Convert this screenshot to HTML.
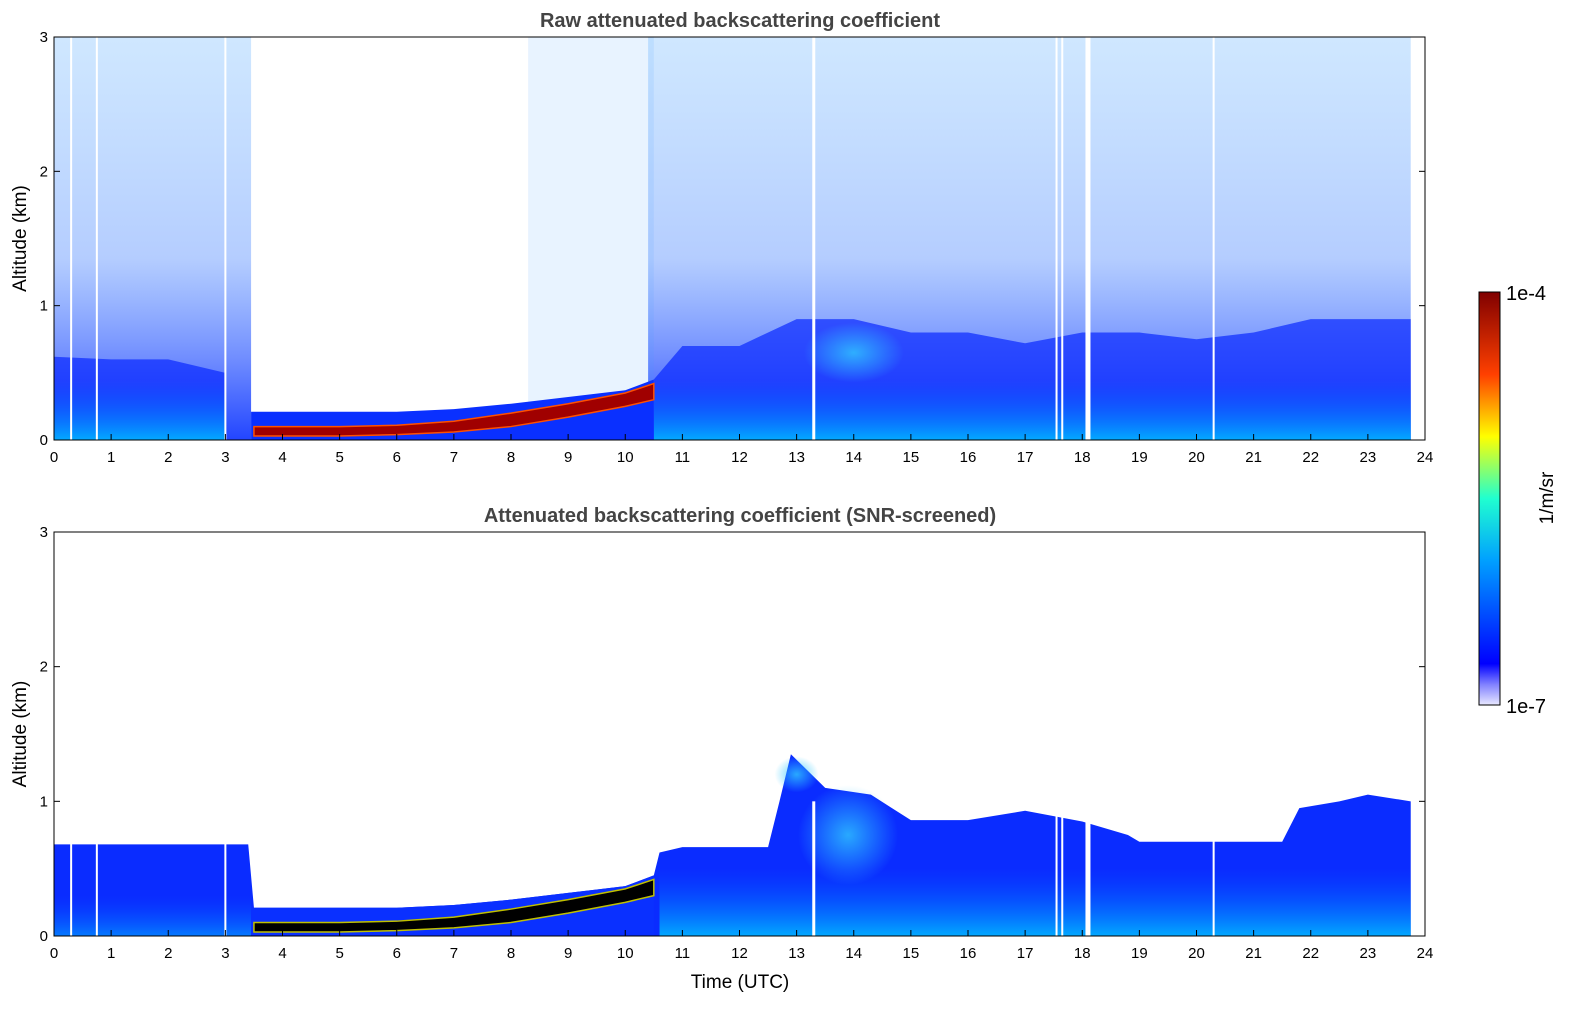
<!DOCTYPE html>
<html><head><meta charset="utf-8">
<style>
body{margin:0;background:#fff;}
svg{display:block;font-family:"Liberation Sans","DejaVu Sans",sans-serif;}
</style></head>
<body>
<svg id="chart" width="1595" height="1020" viewBox="0 0 1595 1020" xmlns="http://www.w3.org/2000/svg">
<defs>
<linearGradient id="rawNoise" x1="0" y1="1" x2="0" y2="0">
<stop offset="0" stop-color="#0a30ff" stop-opacity="0.9"/>
<stop offset="0.2" stop-color="#1040ff" stop-opacity="0.6"/>
<stop offset="0.45" stop-color="#2a70ff" stop-opacity="0.35"/>
<stop offset="1" stop-color="#40a0ff" stop-opacity="0.25"/>
</linearGradient>
<linearGradient id="cyanBottom" x1="0" y1="1" x2="0" y2="0">
<stop offset="0" stop-color="#00c8ff"/>
<stop offset="1" stop-color="#0060ff" stop-opacity="0"/>
</linearGradient>
<radialGradient id="cyanBlob">
<stop offset="0" stop-color="#30c8ff" stop-opacity="0.8"/>
<stop offset="1" stop-color="#30c8ff" stop-opacity="0"/>
</radialGradient>
<linearGradient id="jet" x1="0" y1="1" x2="0" y2="0">
<stop offset="0" stop-color="#e8e8ff"/>
<stop offset="0.05" stop-color="#8080ff"/>
<stop offset="0.1" stop-color="#0000ff"/>
<stop offset="0.35" stop-color="#00a0ff"/>
<stop offset="0.5" stop-color="#20ffd0"/>
<stop offset="0.65" stop-color="#ffff00"/>
<stop offset="0.8" stop-color="#ff4000"/>
<stop offset="1" stop-color="#800000"/>
</linearGradient>
</defs>
<g id="top"></g>
<g id="bottom"></g>
<g id="cbar"></g>
</svg>
<script>
// ---- data ----
const xTicks=[0,1,2,3,4,5,6,7,8,9,10,11,12,13,14,15,16,17,18,19,20,21,22,23,24];
const yTicks=[0,1,2,3];
const rawNoiseSegments=[[0,3.45],[10.4,23.75]];
const rawTransition=[8.3,10.5];
const rawBLTimes=[0,1,2,3,3.45,10.5,11,12,13,14,15,16,17,18,19,20,21,22,23,23.75];
const rawBLTop=[0.62,0.6,0.6,0.5,0.48,0.45,0.7,0.7,0.9,0.9,0.8,0.8,0.72,0.8,0.8,0.75,0.8,0.9,0.9,0.9];
const cloudTimes=[3.5,4,5,6,7,8,9,10,10.5];
const cloudBase=[0.03,0.03,0.03,0.04,0.06,0.1,0.17,0.25,0.3];
const cloudTop=[0.1,0.1,0.1,0.11,0.14,0.2,0.27,0.35,0.42];
const lowTimes=[3.45,6,7,8,9,10,10.5];
const lowTop=[0.21,0.21,0.23,0.27,0.32,0.37,0.45];
const screenTimes=[0,3.4,3.5,6,7,8,9,10,10.5,10.6,11,12.5,12.7,12.9,13.5,14.3,15,16,17,18,18.8,19,21.5,21.8,22.5,23,23.75];
const screenTop=[0.68,0.68,0.21,0.21,0.23,0.27,0.32,0.37,0.45,0.62,0.66,0.66,1.0,1.35,1.1,1.05,0.86,0.86,0.93,0.85,0.75,0.7,0.7,0.95,1.0,1.05,1.0];
const gapLines=[0.3,0.75,3.0,13.3,17.55,17.65,18.1,20.3];
const gapWidths=[2,2,2,3,2,2,5,2];

const NS="http://www.w3.org/2000/svg";
const X0=54,X1=1425;
const xs=t=>X0+(X1-X0)*t/24;
function mk(tag,attrs,parent){const e=document.createElementNS(NS,tag);for(const k in attrs)e.setAttribute(k,attrs[k]);parent.appendChild(e);return e;}

function panel(g,Y0,Y1,title,raw,showXLabel){
  const ys=a=>Y1-(Y1-Y0)*a/3;
  if(raw){
    rawNoiseSegments.forEach((s,i)=>{
      const r=mk('rect',{x:xs(s[0]),y:Y0,width:xs(s[1])-xs(s[0]),height:Y1-Y0,fill:'url(#rawNoise)'},g);
      
      
    });
    const tr=mk('rect',{x:xs(rawTransition[0]),y:Y0,width:xs(rawTransition[1])-xs(rawTransition[0]),height:Y1-Y0,fill:'#40a0ff','fill-opacity':0.12},g);
    
    
    [[0,4],[5,20]].forEach(([a,b])=>{
      let p=[];for(let i=a;i<b;i++)p.push(xs(rawBLTimes[i])+','+ys(rawBLTop[i]));
      p.push(xs(rawBLTimes[b-1])+','+Y1,xs(rawBLTimes[a])+','+Y1);
      const pl=mk('polygon',{points:p.join(' '),fill:'#0828ff','fill-opacity':0.7},g);
      
      
      mk('rect',{x:xs(rawBLTimes[a]),y:ys(0.45),width:xs(rawBLTimes[b-1])-xs(rawBLTimes[a]),height:Y1-ys(0.45),fill:'url(#cyanBottom)','fill-opacity':0.8},g);
    });
    mk('ellipse',{cx:xs(14),cy:ys(0.65),rx:50,ry:30,fill:'url(#cyanBlob)'},g);
  }else{
    let p=screenTimes.map((t,i)=>xs(t)+','+ys(screenTop[i]));
    p.push(xs(23.75)+','+Y1,xs(0)+','+Y1);
    const pl=mk('polygon',{points:p.join(' '),fill:'#0a2cff'},g);
    
    
    mk('rect',{x:xs(10.6),y:ys(0.5),width:xs(23.75)-xs(10.6),height:Y1-ys(0.5),fill:'url(#cyanBottom)','fill-opacity':0.8},g);
    mk('rect',{x:xs(0),y:ys(0.3),width:xs(3.45)-xs(0),height:Y1-ys(0.3),fill:'url(#cyanBottom)','fill-opacity':0.5},g);
    mk('ellipse',{cx:xs(13.9),cy:ys(0.75),rx:50,ry:50,fill:'url(#cyanBlob)'},g);
    mk('ellipse',{cx:xs(13.0),cy:ys(1.2),rx:22,ry:18,fill:'url(#cyanBlob)'},g);
  }
  let lp=lowTimes.map((t,i)=>xs(t)+','+ys(lowTop[i]));
  lp.push(xs(10.5)+','+Y1,xs(3.45)+','+Y1);
  const lo=mk('polygon',{points:lp.join(' '),fill:'#0a30ff'},g);
  
  
  let cp=cloudTimes.map((t,i)=>xs(t)+','+ys(cloudTop[i]));
  for(let i=cloudTimes.length-1;i>=0;i--)cp.push(xs(cloudTimes[i])+','+ys(cloudBase[i]));
  const cl=mk('polygon',{points:cp.join(' '),fill:raw?'#a00000':'#000',stroke:raw?'#ff5000':'#c0c000','stroke-width':1.5},g);
  
  
  gapLines.forEach((t,i)=>{
    const l=mk('rect',{x:xs(t)-gapWidths[i]/2,y:raw?Y0:ys(1.0),width:gapWidths[i],height:Y1-(raw?Y0:ys(1.0)),fill:'#fff'},g);
    
    
  });
  const fr=mk('rect',{x:X0,y:Y0,width:X1-X0,height:Y1-Y0,fill:'none',stroke:'#000','stroke-width':1},g);
  
  
  xTicks.forEach(t=>{
    mk('line',{x1:xs(t),x2:xs(t),y1:Y1,y2:Y1-6,stroke:'#000'},g);
    const tx=mk('text',{x:xs(t),y:Y1+22,'text-anchor':'middle','font-size':15},g);
    tx.textContent=t;
    
    
  });
  yTicks.forEach(v=>{
    mk('line',{x1:X0,x2:X0+6,y1:ys(v),y2:ys(v),stroke:'#000'},g);
    mk('line',{x1:X1,x2:X1-6,y1:ys(v),y2:ys(v),stroke:'#000'},g);
    const tx=mk('text',{x:X0-6,y:ys(v)+5,'text-anchor':'end','font-size':15},g);
    tx.textContent=v;
    
    
  });
  const yl=mk('text',{x:26,y:(Y0+Y1)/2,'text-anchor':'middle','font-size':19,transform:`rotate(-90 26 ${(Y0+Y1)/2})`},g);
  yl.textContent='Altitude (km)';
  
  
  const tt=mk('text',{x:740,y:Y0-10,'text-anchor':'middle','font-size':20,'font-weight':'bold',fill:'#444'},g);
  tt.textContent=title;
  
  
  if(showXLabel){
    const xl=mk('text',{x:740,y:Y1+52,'text-anchor':'middle','font-size':19},g);
    xl.textContent='Time (UTC)';
    
    
  }
}
panel(document.getElementById('top'),37,440,'Raw attenuated backscattering coefficient',true,false);
panel(document.getElementById('bottom'),532,936,'Attenuated backscattering coefficient (SNR-screened)',false,true);

const cb=document.getElementById('cbar');
const cr=mk('rect',{x:1479,y:292,width:21,height:413,fill:'url(#jet)',stroke:'#000','stroke-width':1},cb);


[['1e-4',300],['1e-7',713]].forEach(([s,y])=>{
  const t=mk('text',{x:1506,y:y,'font-size':20},cb);t.textContent=s;
  
  
});
const cl=mk('text',{x:1553,y:498,'text-anchor':'middle','font-size':19,transform:'rotate(-90 1553 498)'},cb);
cl.textContent='1/m/sr';


</script>
</body></html>
